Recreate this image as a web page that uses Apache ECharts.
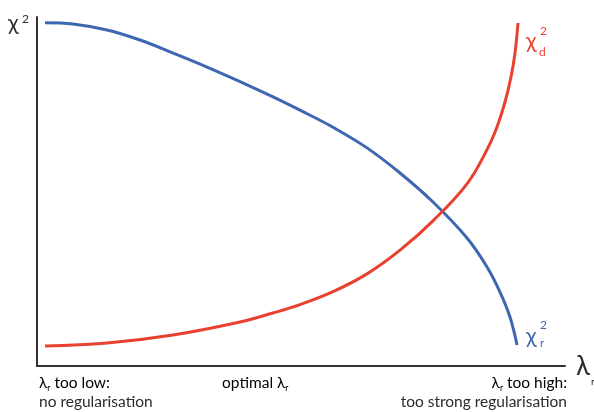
<!DOCTYPE html>
<html>
<head>
<meta charset="utf-8">
<script src="https://cdn.jsdelivr.net/npm/echarts@6/dist/echarts.min.js"></script>
<style>
html,body{margin:0;padding:0;background:#fff;}
#chart{width:594px;height:412px;}
</style>
</head>
<body>
<div id="chart"></div>
<script>
// Schematic chart: chi^2 vs regularisation parameter (arbitrary units 0-100)
const chiR_x = [1.52, 6.82, 13.26, 19.51, 25.76, 32.20, 38.45, 44.70, 49.81, 56.06, 62.50, 68.75, 75.00, 81.44, 85.23, 87.69, 89.58, 90.91];
const chiR_y = [98.37, 97.99, 96.28, 93.41, 89.68, 85.67, 81.50, 77.10, 73.30, 68.40, 62.50, 55.30, 46.99, 36.68, 28.37, 21.20, 14.04, 6.02];
const chiD_x = [1.52, 13.26, 25.76, 38.45, 44.70, 49.81, 56.06, 62.50, 68.75, 75.00, 81.44, 85.23, 87.12, 88.64, 89.77, 90.53, 91.10];
const chiD_y = [5.73, 6.59, 8.88, 12.61, 15.20, 17.60, 21.30, 26.40, 33.20, 41.60, 52.20, 62.00, 68.50, 75.64, 82.81, 89.68, 98.28];

const BLUE = '#3d67b1';
const RED = '#e9412f';
const TXT = '#2b2b2b';
const FONT = 'Lato';
const FS = 15.5;

function pairs(xs, ys){ return xs.map((x,i)=>[x, ys[i]]); }

const chart = echarts.init(document.getElementById('chart'), null, {renderer:'canvas'});
const subRich = {
  l: {fontFamily: FONT, fontSize: FS, color: TXT},
  s: {fontFamily: FONT, fontSize: 8.5, color: TXT, padding: [10,0,0,0]},
  t: {fontFamily: FONT, fontSize: FS, color: TXT}
};
chart.setOption({
  animation: false,
  backgroundColor: '#ffffff',
  grid: {left: 37, right: 29, top: 17, bottom: 46},
  xAxis: {
    type: 'value', min: 0, max: 100,
    axisLine: {show: true, lineStyle: {color: '#333', width: 2}},
    axisTick: {show: false}, axisLabel: {show: false}, splitLine: {show: false}
  },
  yAxis: {
    type: 'value', min: 0, max: 100,
    axisLine: {show: true, lineStyle: {color: '#333', width: 2}},
    axisTick: {show: false}, axisLabel: {show: false}, splitLine: {show: false}
  },
  series: [
    {
      type: 'line', data: pairs(chiR_x, chiR_y), smooth: 0.4, symbol: 'none',
      lineStyle: {color: BLUE, width: 3}
    },
    {
      type: 'line', data: pairs(chiD_x, chiD_y), smooth: 0.4, symbol: 'none',
      lineStyle: {color: RED, width: 3}
    }
  ],
  graphic: [
    // y axis name chi^2
    {type:'text', left: 8, top: 12, style:{text:'χ', font:'22px ' + FONT, fill: TXT}},
    {type:'text', left: 22, top: 13, style:{text:'2', font:'12px ' + FONT, fill: TXT}},
    // x axis name lambda_r
    {type:'text', left: 576, top: 354, style:{text:'λ', font:'26px ' + FONT, fill: TXT}},
    {type:'text', left: 591, top: 377, style:{text:'r', font:'10px ' + FONT, fill: TXT}},
    // chi^2_d (red)
    {type:'text', left: 526, top: 30, style:{text:'χ', font:'22px ' + FONT, fill: RED}},
    {type:'text', left: 540, top: 25, style:{text:'2', font:'12px ' + FONT, fill: RED}},
    {type:'text', left: 539, top: 46, style:{text:'d', font:'12px ' + FONT, fill: RED}},
    // chi^2_r (blue)
    {type:'text', left: 526, top: 325, style:{text:'χ', font:'22px ' + FONT, fill: BLUE}},
    {type:'text', left: 540, top: 319, style:{text:'2', font:'12px ' + FONT, fill: BLUE}},
    {type:'text', left: 540, top: 338, style:{text:'r', font:'11px ' + FONT, fill: BLUE}},
    // bottom annotations
    {type:'text', left: 39, top: 375, style:{text:'{l|λ}{s|r}{t| too low:}', rich: subRich}},
    {type:'text', left: 39, top: 394, style:{text:'no regularisation', font: FS + 'px ' + FONT, fill: TXT}},
    {type:'text', left: 222, top: 375, style:{text:'{t|optimal λ}{s|r}', rich: subRich}},
    {type:'text', right: 27, top: 375, style:{text:'{l|λ}{s|r}{t| too high:}', rich: subRich, align:'right'}},
    {type:'text', right: 27, top: 394, style:{text:'too strong regularisation', font: FS + 'px ' + FONT, fill: TXT}}
  ]
});
</script>
</body>
</html>
